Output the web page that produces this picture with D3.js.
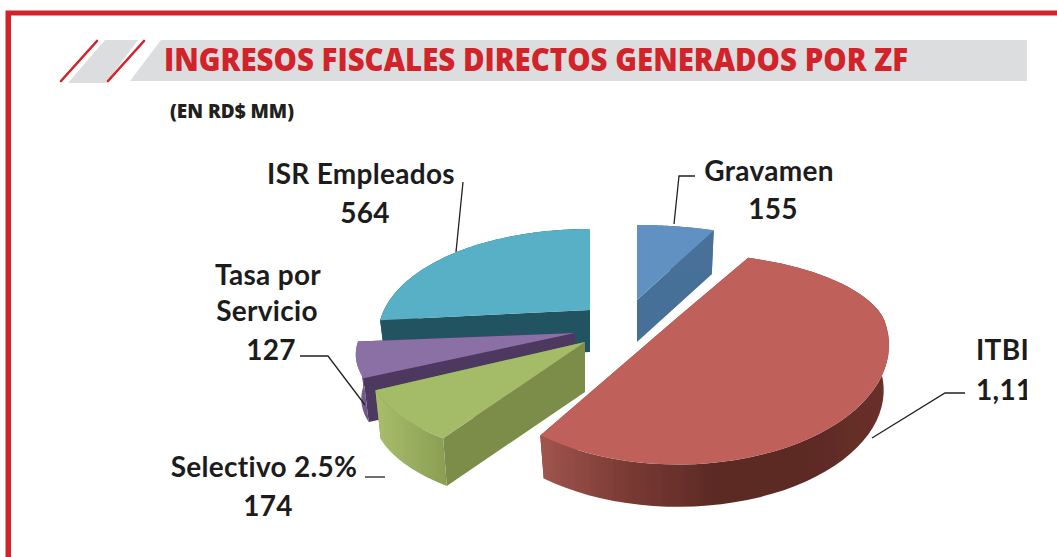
<!DOCTYPE html>
<html><head><meta charset="utf-8">
<script src="https://cdn.jsdelivr.net/npm/d3@7"></script>
<style>html,body{margin:0;padding:0;background:#fff}svg{display:block}</style>
</head><body><div id="chart"></div>
<script>
const categories = ["Gravamen","ITBIS","Selectivo 2.5%","Tasa por Servicio","ISR Empleados"];
const values = [155,1110,174,127,564];
const valueLabels = ["155","1,110","174","127","564"];
const topColors = ["#6191C2","#C0605A","#A4BC68","#8A70A4","#58B0C6"];
const cutColors = ["#466F98","#7A3630","#7C8C49","#4E3760","#235260"];
const wallStops = [["#4A7098","#4A7098"],["#A0554E","#7A3A34","#5C2A24","#5C2A24","#6A302A"],["#A8BE6C","#8A9E52"],["#7E6696","#6A5284"],["#235260","#235260"]];
// Per-slice placement of the exploded 3-D wedges
const apexX = [637,678,585,575,590];
const apexY = [300,317,342,333,310];
const radiusX = [224,205,211,213,206];
const radiusBack = [100,85,96,90,108];
const radiusFront = [100,118,96,90,108];
const depth = [42,46,50,45,42];
const perspective = 0.25;
const labelLines = [["Gravamen","155"],["ITBIS","1,110"],["Selectivo 2.5%","174"],["Tasa por","Servicio","127"],["ISR Empleados","564"]];
const labelX = [[769,773],[976,976],[264,268],[268,267,271],[361,365]];
const labelY = [[181,219],[360,400],[477,516],[285,321,360],[184,223]];
const labelAnchor = ["middle","start","middle","middle","middle"];
const leaders = [[[695,176],[679,176],[674,224]],[[965,393],[945,393],[872,438]],[[385,477],[365,477]],[[300,356],[328,356],[365,405]],[[463,182],[456,252]]];
const drawOrder = [4,3,2,1,0];

const W=1057,H=557,RED="#D2232A",GRAY="#DCDDDE";
const svg=d3.select("#chart").append("svg").attr("width",W).attr("height",H).attr("viewBox",[0,0,W,H]);
const defs=svg.append("defs");
defs.append("clipPath").attr("id","clip").append("rect").attr("x",0).attr("y",0).attr("width",1027).attr("height",H);
const soft=defs.append("filter").attr("id","soft");
soft.append("feGaussianBlur").attr("stdDeviation",0.5);

// frame
svg.append("path").attr("d","M5.5,557V10.5H1057V15.5H11V557Z").attr("fill",RED);
// title band
const poly=d3.line();
svg.append("path").attr("d",poly([[130,81],[161,40],[1027,40],[1027,81]])+"Z").attr("fill",GRAY);
svg.append("path").attr("d",poly([[68,83],[105,40],[138,40],[106,83]])+"Z").attr("fill",GRAY);
[[[61,81],[97,41]],[[108,81],[144,41]]].forEach(l=>svg.append("path").attr("d",poly(l)).attr("stroke",RED).attr("stroke-width",2.6).attr("stroke-linecap","round").attr("fill","none"));
svg.append("text").attr("x",164).attr("y",71).attr("font-family","'Open Sans'").attr("font-weight",800).attr("font-size",31).attr("fill",RED)
  .attr("textLength",744).attr("lengthAdjust","spacingAndGlyphs").text("INGRESOS FISCALES DIRECTOS GENERADOS POR ZF");
svg.append("text").attr("x",170).attr("y",118).attr("font-family","'Open Sans'").attr("font-weight",800).attr("font-size",19).attr("fill","#231F20")
  .attr("textLength",124).attr("lengthAdjust","spacingAndGlyphs").text("(EN RD$ MM)");

// pie
const arcs=d3.pie().sort(null).startAngle(0).endAngle(2*Math.PI)(values);
const angleScale=d3.scaleLinear().domain([0,1]);
const g=svg.append("g").attr("filter","url(#soft)");
const shrink=0.975;
function pt(i,a,r,z){
  const c=Math.cos(a),s=Math.sin(a);
  const k=(1-(1-shrink)*z)*(1-perspective*c);
  const ry=c>=0?radiusBack[i]:radiusFront[i];
  return [apexX[i]+radiusX[i]*s*r*k, apexY[i]-ry*c*r*k+depth[i]*z];
}
drawOrder.forEach(i=>{
  const d=arcs[i];
  angleScale.range([d.startAngle,d.endAngle]);
  const samples=d3.range(0,1.0001,1/60).map(t=>angleScale(t));
  const rim=samples.map(a=>pt(i,a,1,0));
  const rimLow=samples.map(a=>pt(i,a,1,1));
  const gid="wall"+i;
  const x0=d3.min(rim.concat(rimLow),p=>p[0]),x1=d3.max(rim.concat(rimLow),p=>p[0]);
  const grad=defs.append("linearGradient").attr("id",gid).attr("gradientUnits","userSpaceOnUse").attr("x1",x0).attr("x2",x1).attr("y1",0).attr("y2",0);
  wallStops[i].forEach((c,j,arr)=>grad.append("stop").attr("offset",j/(arr.length-1)).attr("stop-color",c));
  [d.startAngle,d.endAngle].forEach(a=>{
    const q=[pt(i,a,0,0),pt(i,a,1,0),pt(i,a,1,1),pt(i,a,0,1)];
    g.append("path").attr("d",poly(q)+"Z").attr("fill",cutColors[i]);
  });
  g.append("path").attr("d",poly(rim.concat(rimLow.slice().reverse()))+"Z").attr("fill",`url(#${gid})`);
  g.append("path").attr("d",poly([pt(i,d.startAngle,0,0)].concat(rim))+"Z").attr("fill",topColors[i]);
});

// leaders and labels
const clipped=svg.append("g").attr("clip-path","url(#clip)");
leaders.forEach(l=>clipped.append("path").attr("d",poly(l)).attr("fill","none").attr("stroke","#222").attr("stroke-width",1.3));
categories.forEach((c,i)=>{
  labelLines[i].forEach((t,j)=>{
    clipped.append("text").attr("x",labelX[i][j]).attr("y",labelY[i][j]).attr("text-anchor",labelAnchor[i])
      .attr("font-family","Lato").attr("font-weight",700).attr("font-size",28).attr("letter-spacing",0.3).attr("fill","#1c1c1c").text(t);
  });
});
</script></body></html>
